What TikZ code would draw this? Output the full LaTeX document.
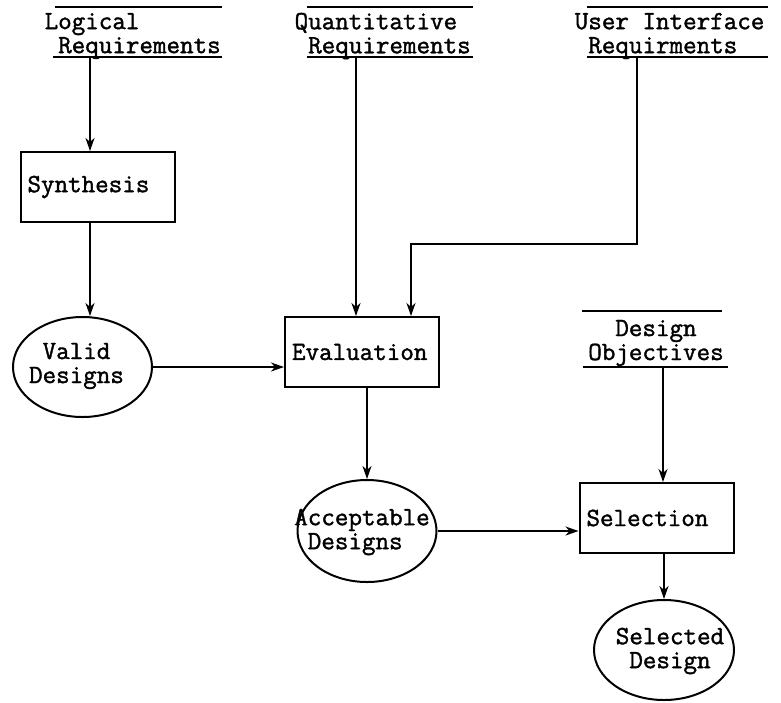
\documentclass[tikz,border=0pt]{standalone}
\usepackage{fontspec}
\setmonofont{Latin Modern Mono}[FakeBold=1.4]
\usetikzlibrary{arrows.meta,shapes.geometric}
% one blank character cell of the typewriter font
\newcommand\pad{\hphantom{X}}
\tikzset{
  tw/.style={font=\ttfamily\fontsize{26.3}{24}\selectfont},
  lbl/.style={tw, align=left, inner sep=0pt},
  proc/.style={draw, line width=2pt, tw, minimum height=70pt,
    text width=140pt, inner xsep=7pt, inner ysep=0pt, align=left},
  store/.style={draw, ellipse, line width=2pt, inner sep=0pt,
    minimum width=139pt, minimum height=100pt},
  rule/.style={line width=2.4pt},
  flow/.style={line width=1.8pt, -{Stealth[length=13pt,width=9pt,inset=4pt]}},
}
\begin{document}
\begin{tikzpicture}[x=1pt,y=-1pt]
\useasboundingbox (0,0) rectangle (781,702);

% external data sources (two-rule stores)
\draw[rule] (55,7) -- (222,7);
\draw[rule] (53,57) -- (222,57);
\node[lbl] (logreq) at (132.7,36) {Logical\\\pad Requirements};
\coordinate (lr) at (90,57);

\draw[rule] (307,7) -- (473,7);
\draw[rule] (307,57) -- (473,57);
\node[lbl] (quantreq) at (382.7,36) {Quantitative\\\pad Requirements};
\coordinate (qr) at (356,57);

\draw[rule] (587,7) -- (768,7);
\draw[rule] (587,57) -- (768,57);
\node[lbl] (uireq) at (669.6,36) {User Interface\\\pad Requirments};
\coordinate (ur) at (637,57);

\draw[rule] (582,311) -- (722,311);
\draw[rule] (583,367) -- (728,367);
\node[lbl] (designobj) at (656,343) {\pad\pad Design\\Objectives};
\coordinate (dob) at (663,367);

% processes
\node[proc] (synth) at (97.5,187) {Synthesis};
\node[proc] (eval) at (362,352) {Evaluation};
\node[proc] (select) at (656.5,518) {Selection};

% intermediate results
\node[store] (valid) at (82.5,367) {};
\node[lbl] (validtxt) at (76.5,366) {\pad Valid\\Designs};
\node[store, minimum height=102pt] (accept) at (367,531) {};
\node[lbl] (accepttxt) at (362,532) {Acceptable\\\pad Designs};
\node[store, minimum width=140pt] (chosen) at (664,650) {};
\node[lbl] (chosentxt) at (670,651) {Selected\\\pad Design};

% flows
\draw[flow] (lr) -- (lr |- synth.north);
\draw[flow] (lr |- synth.south) -- (lr |- valid.north);
\draw[flow] (valid.east) -- (valid.east -| eval.west);
\draw[flow] (qr) -- (qr |- eval.north);
\coordinate (bend) at (411,244);
\draw[flow] (ur) |- (bend) -- (bend |- eval.north);
\draw[flow] (accept.north |- eval.south) -- (accept.north);
\draw[flow] (accept.east) -- (accept.east -| select.west);
\draw[flow] (dob) -- (dob |- select.north);
\draw[flow] (chosen.north |- select.south) -- (chosen.north);
\end{tikzpicture}
\end{document}
